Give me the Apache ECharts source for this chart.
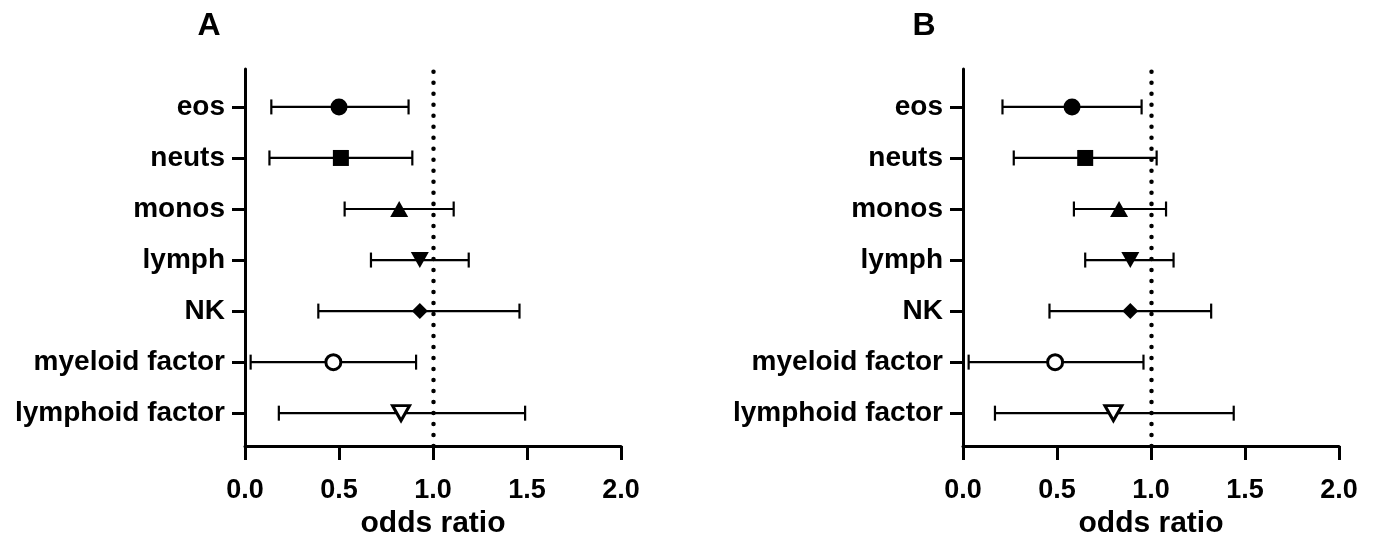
<!DOCTYPE html>
<html>
<head>
<meta charset="utf-8">
<script src="https://cdn.jsdelivr.net/npm/echarts@6/dist/echarts.min.js"></script>
<style>
html,body{margin:0;padding:0;background:#fff;}
#chart{width:1374px;height:544px;}
</style>
</head>
<body>
<div id="chart"></div>
<script>
// ---- data ----
const categories = ['eos', 'neuts', 'monos', 'lymph', 'NK', 'myeloid factor', 'lymphoid factor'];
const xTicks = [0, 0.5, 1.0, 1.5, 2.0];
const panelTitles = ['A', 'B'];
const xAxisName = 'odds ratio';

// Panel A
const orA   = [0.50, 0.51, 0.82, 0.93, 0.93, 0.47, 0.83];
const lowA  = [0.14, 0.13, 0.53, 0.67, 0.39, 0.03, 0.18];
const highA = [0.87, 0.89, 1.11, 1.19, 1.46, 0.91, 1.49];
// Panel B
const orB   = [0.58, 0.65, 0.83, 0.89, 0.89, 0.49, 0.80];
const lowB  = [0.21, 0.27, 0.59, 0.65, 0.46, 0.03, 0.17];
const highB = [0.95, 1.03, 1.08, 1.12, 1.32, 0.96, 1.44];
const refLine = 1.0;

// ---- styling ----
const FONT = 'Liberation Sans, Arial, Helvetica, sans-serif';
const n = categories.length;
const rowPos = categories.map((c, i) => n - i);   // eos on top

const markerStyles = [
  { symbol: 'circle',   symbolSize: 17, fill: '#000' },
  { symbol: 'rect',     symbolSize: 16, fill: '#000' },
  { symbol: 'triangle', symbolSize: [18, 16], fill: '#000' },
  { symbol: 'triangle', symbolSize: [18, 16], fill: '#000', rotate: 180 },
  { symbol: 'diamond',  symbolSize: 16, fill: '#000' },
  { symbol: 'circle',   symbolSize: 15, fill: '#fff', border: 3 },
  { symbol: 'triangle', symbolSize: [17, 15], fill: '#fff', border: 3, rotate: 180 }
];

function scatterData(or) {
  return or.map((v, i) => {
    const m = markerStyles[i];
    return {
      value: [v, rowPos[i]],
      symbol: m.symbol,
      symbolSize: m.symbolSize,
      symbolRotate: m.rotate || 0,
      itemStyle: {
        color: m.fill,
        borderColor: '#000',
        borderWidth: m.border || 0,
        opacity: 1
      }
    };
  });
}

function errData(lo, hi) {
  return lo.map((l, i) => [l, hi[i], rowPos[i]]);
}

function renderErr(params, api) {
  const y = api.value(2);
  const p1 = api.coord([api.value(0), y]);
  const p2 = api.coord([api.value(1), y]);
  const h = 7.5;
  const st = { stroke: '#000', lineWidth: 2.2 };
  return {
    type: 'group',
    children: [
      { type: 'line', shape: { x1: p1[0], y1: p1[1], x2: p2[0], y2: p2[1] }, style: st },
      { type: 'line', shape: { x1: p1[0], y1: p1[1] - h, x2: p1[0], y2: p1[1] + h }, style: st },
      { type: 'line', shape: { x1: p2[0], y1: p2[1] - h, x2: p2[0], y2: p2[1] + h }, style: st }
    ]
  };
}

const gridLefts = [245, 963];
const gridWidth = 376;

const grids = gridLefts.map(l => ({ left: l, width: gridWidth, top: 69, height: 378 }));

const xAxes = gridLefts.map((l, k) => ({
  gridIndex: k,
  type: 'value',
  min: xTicks[0],
  max: xTicks[xTicks.length - 1],
  interval: 0.5,
  name: xAxisName,
  nameLocation: 'middle',
  nameGap: 52,
  nameTextStyle: { fontFamily: FONT, fontWeight: 'bold', fontSize: 30, color: '#000' },
  axisLine: { show: true, lineStyle: { color: '#000', width: 3 } },
  axisTick: { show: true, length: 14, lineStyle: { color: '#000', width: 3 } },
  axisLabel: {
    margin: 31, color: '#000', fontFamily: FONT, fontWeight: 'bold', fontSize: 27,
    formatter: v => v.toFixed(1)
  },
  splitLine: { show: false }
}));

const yAxes = gridLefts.map((l, k) => ({
  gridIndex: k,
  type: 'value',
  min: 0.355,
  max: 7.743,
  axisLine: { show: true, onZero: false, lineStyle: { color: '#000', width: 3 } },
  axisTick: { show: true, length: 13, customValues: rowPos, lineStyle: { color: '#000', width: 3 } },
  axisLabel: {
    margin: 20, color: '#000', fontFamily: FONT, fontWeight: 'bold', fontSize: 28,
    customValues: rowPos,
    formatter: v => categories[n - Math.round(v)]
  },
  splitLine: { show: false }
}));

const panels = [[orA, lowA, highA], [orB, lowB, highB]];
const series = [];
panels.forEach((p, k) => {
  series.push({
    type: 'custom',
    xAxisIndex: k, yAxisIndex: k,
    renderItem: renderErr,
    encode: { x: [0, 1], y: 2 },
    data: errData(p[1], p[2]),
    z: 3,
    silent: true
  });
  series.push({
    type: 'scatter',
    xAxisIndex: k, yAxisIndex: k,
    data: scatterData(p[0]),
    z: 5,
    silent: true,
    markLine: {
      silent: true,
      symbol: 'none',
      label: { show: false },
      lineStyle: { color: '#000', width: 4.5, type: [0.01, 11], cap: 'round', opacity: 1 },
      data: [{ xAxis: refLine }],
      animation: false
    }
  });
});

const graphics = panelTitles.map((t, k) => ({
  type: 'text',
  x: k === 0 ? 209 : 924,
  y: 26,
  style: {
    text: t, fill: '#000', font: 'bold 32px ' + FONT,
    textAlign: 'center', textVerticalAlign: 'middle'
  }
}));

const chart = echarts.init(document.getElementById('chart'), null, { renderer: 'canvas' });
chart.setOption({
  animation: false,
  backgroundColor: '#fff',
  grid: grids,
  xAxis: xAxes,
  yAxis: yAxes,
  series: series,
  graphic: graphics
});
</script>
</body>
</html>
